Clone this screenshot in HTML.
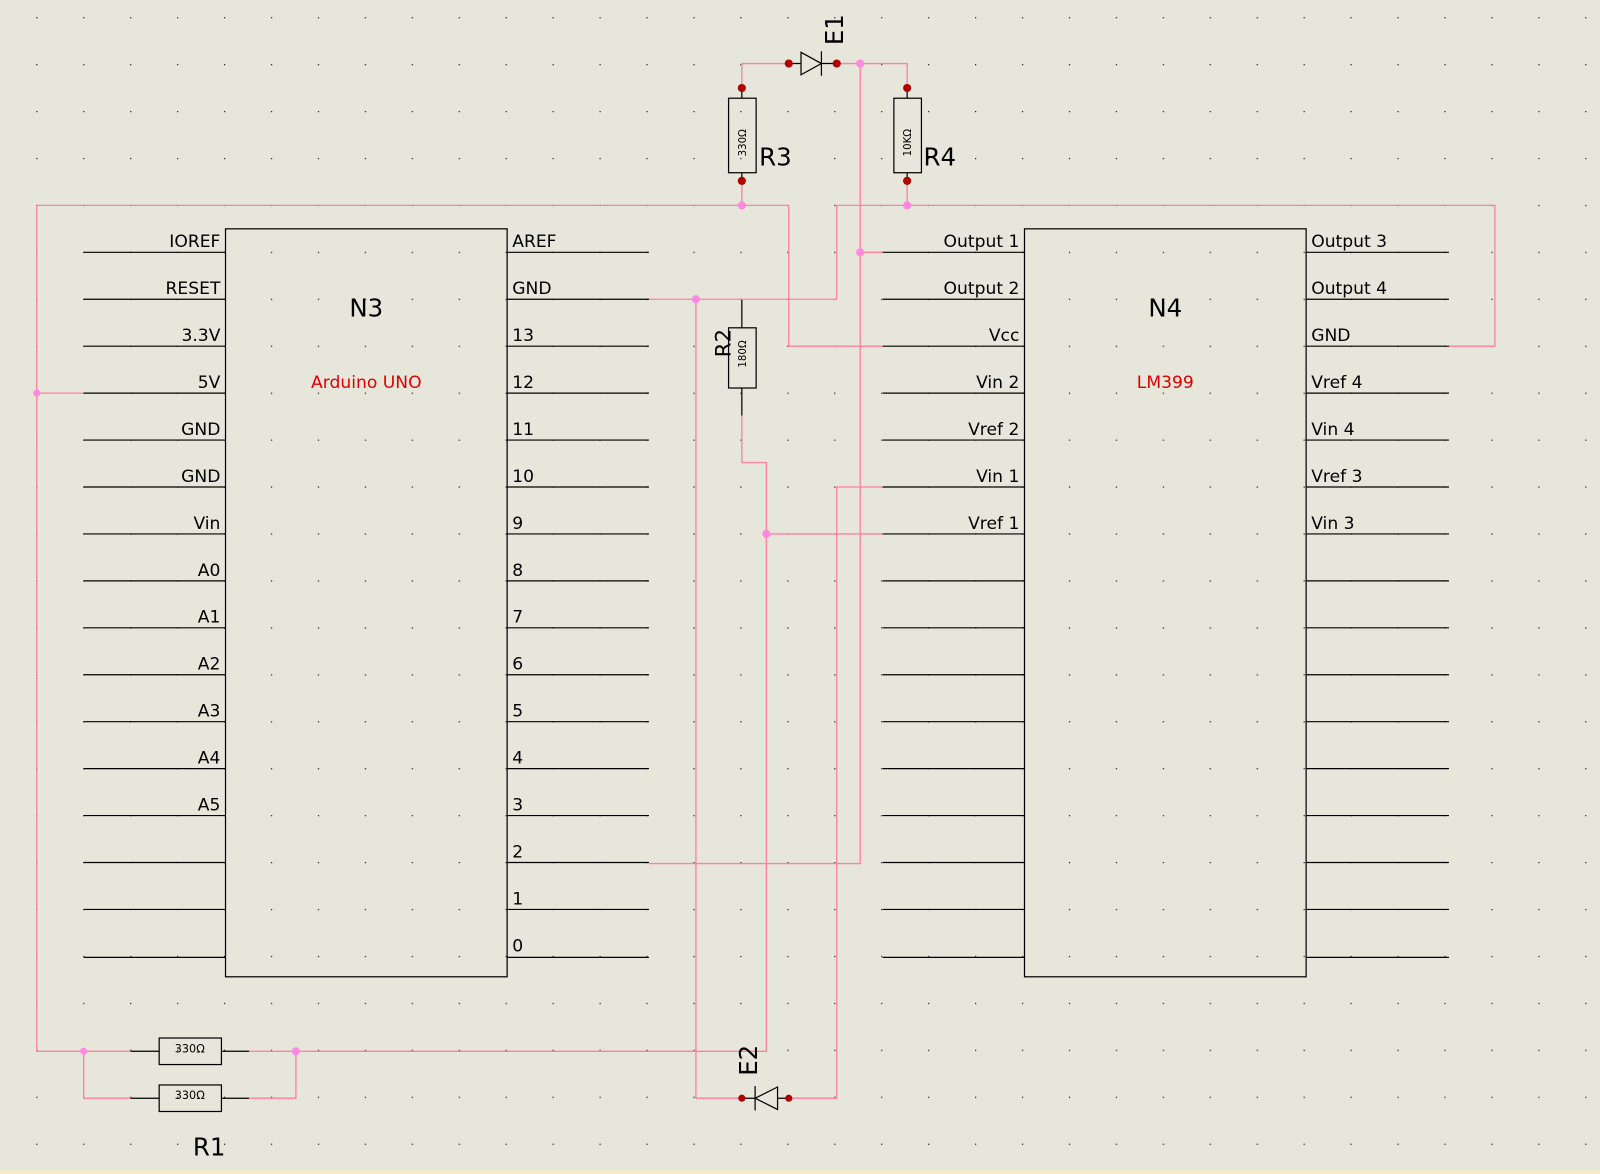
<!DOCTYPE html>
<html><head><meta charset="utf-8"><style>html,body{margin:0;padding:0;background:#e6e6db;}svg{display:block}</style></head>
<body>
<svg width="1600" height="1174" viewBox="0 0 1568 1150" xmlns="http://www.w3.org/2000/svg" font-family="'DejaVu Sans','Liberation Sans',sans-serif">
<defs>
<pattern id="g" x="35.5" y="16.5" width="46" height="46" patternUnits="userSpaceOnUse"><rect x="0" y="0" width="1.2" height="1.2" fill="#222"/></pattern>
</defs>
<rect width="1568" height="1150" fill="#e6e6db"/>
<rect width="1568" height="1146" fill="url(#g)"/>
<rect y="1147" width="1568" height="3" fill="#f4ecc0"/>

<g stroke="#000" stroke-width="1.2" fill="none">
<rect x="221" y="224" width="276" height="733"/>
<rect x="1004" y="224" width="276" height="733"/>
<path d="M82 247H221M82 293H221M82 339H221M82 385H221M82 431H221M82 477H221M82 523H221M82 569H221M82 615H221M82 661H221M82 707H221M82 753H221M82 799H221M82 845H221M82 891H221M82 938H221"/>
<path d="M497 247H636M497 293H636M497 339H636M497 385H636M497 431H636M497 477H636M497 523H636M497 569H636M497 615H636M497 661H636M497 707H636M497 753H636M497 799H636M497 845H636M497 891H636M497 938H636"/>
<path d="M865 247H1004M865 293H1004M865 339H1004M865 385H1004M865 431H1004M865 477H1004M865 523H1004M865 569H1004M865 615H1004M865 661H1004M865 707H1004M865 753H1004M865 799H1004M865 845H1004M865 891H1004M865 938H1004"/>
<path d="M1280 247H1420M1280 293H1420M1280 339H1420M1280 385H1420M1280 431H1420M1280 477H1420M1280 523H1420M1280 569H1420M1280 615H1420M1280 661H1420M1280 707H1420M1280 753H1420M1280 799H1420M1280 845H1420M1280 891H1420M1280 938H1420"/>
<rect x="714" y="96" width="27" height="73"/><path d="M727 86V96M727 169V177"/>
<rect x="876" y="96" width="27" height="73"/><path d="M889 86V96M889 169V177"/>
<rect x="714" y="321" width="27" height="59"/><path d="M727 293V321M727 380V407"/>
<rect x="156" y="1017" width="61" height="26"/><path d="M128 1030H156M217 1030H244"/>
<rect x="156" y="1063" width="61" height="26"/><path d="M128 1076H156M217 1076H244"/>
<path d="M773 62H785M805 62H820M785 51L805 62L785 73ZM805 50V74"/>
<path d="M727 1076H740M762 1076H773M762 1065L740 1076L762 1087ZM740 1064V1088"/>
</g>

<g stroke="#ff80a0" stroke-width="1.3" fill="none">
<path d="M82 385H36V201H773V339H865"/>
<path d="M36 385V1030H128"/>
<path d="M82 1030V1076H128M244 1076H290V1030M244 1030H751V453H727V407"/>
<path d="M751 523H865"/>
<path d="M727 201V177M727 86V62H773M820 62H889V86M889 177V201"/>
<path d="M636 293H820V201H1465V339H1420"/>
<path d="M843 62V846H636M843 247H865"/>
<path d="M682 293V1076H727M773 1076H820V477H865"/>
</g>

<g fill="#ff88e0">
<circle cx="36" cy="385" r="3.5"/><circle cx="727" cy="201" r="4"/><circle cx="889" cy="201" r="4"/>
<circle cx="843" cy="62" r="4"/><circle cx="843" cy="247" r="4"/><circle cx="682" cy="293" r="4"/>
<circle cx="751" cy="523" r="4"/><circle cx="82" cy="1030" r="3.5"/><circle cx="290" cy="1030" r="4"/>
</g>
<g fill="#b00000">
<circle cx="727" cy="86" r="4"/><circle cx="727" cy="177" r="4"/><circle cx="889" cy="86" r="4"/><circle cx="889" cy="177" r="4"/>
<circle cx="773" cy="62" r="4"/><circle cx="820" cy="62" r="4"/><circle cx="727" cy="1076" r="3.5"/><circle cx="773" cy="1076" r="3.5"/>
</g>

<g font-size="16.8" fill="#000" text-anchor="end">
<text x="216" y="242">IOREF</text><text x="216" y="288">RESET</text><text x="216" y="334">3.3V</text><text x="216" y="380">5V</text>
<text x="216" y="426">GND</text><text x="216" y="472">GND</text><text x="216" y="518">Vin</text><text x="216" y="564">A0</text>
<text x="216" y="610">A1</text><text x="216" y="656">A2</text><text x="216" y="702">A3</text><text x="216" y="748">A4</text><text x="216" y="794">A5</text>
<text x="999" y="242">Output 1</text><text x="999" y="288">Output 2</text><text x="999" y="334">Vcc</text><text x="999" y="380">Vin 2</text>
<text x="999" y="426">Vref 2</text><text x="999" y="472">Vin 1</text><text x="999" y="518">Vref 1</text>
</g>
<g font-size="16.8" fill="#000">
<text x="502" y="242">AREF</text><text x="502" y="288">GND</text><text x="502" y="334">13</text><text x="502" y="380">12</text>
<text x="502" y="426">11</text><text x="502" y="472">10</text><text x="502" y="518">9</text><text x="502" y="564">8</text>
<text x="502" y="610">7</text><text x="502" y="656">6</text><text x="502" y="702">5</text><text x="502" y="748">4</text>
<text x="502" y="794">3</text><text x="502" y="840">2</text><text x="502" y="886">1</text><text x="502" y="932">0</text>
<text x="1285" y="242">Output 3</text><text x="1285" y="288">Output 4</text><text x="1285" y="334">GND</text><text x="1285" y="380">Vref 4</text>
<text x="1285" y="426">Vin 4</text><text x="1285" y="472">Vref 3</text><text x="1285" y="518">Vin 3</text>
</g>
<g text-anchor="middle">
<text x="359" y="310" font-size="24">N3</text>
<text x="359" y="380" font-size="16.8" fill="#e00000">Arduino UNO</text>
<text x="1142" y="310" font-size="24">N4</text>
<text x="1142" y="380" font-size="16.8" fill="#e00000">LM399</text>
<text x="186" y="1031" font-size="11">330Ω</text>
<text x="186" y="1077" font-size="11">330Ω</text>
</g>
<g font-size="24">
<text x="744" y="162">R3</text><text x="905" y="162">R4</text><text x="189" y="1132">R1</text>
<text transform="translate(826,44) rotate(-90)">E1</text>
<text transform="translate(742,1054) rotate(-90)">E2</text>
<text transform="translate(716,350) rotate(-90)" font-size="21">R2</text>
</g>
<g font-size="10">
<text transform="translate(731,153) rotate(-90)">330Ω</text>
<text transform="translate(893,153) rotate(-90)">10KΩ</text>
<text transform="translate(731,360) rotate(-90)">180Ω</text>
</g>
</svg>
</body></html>
